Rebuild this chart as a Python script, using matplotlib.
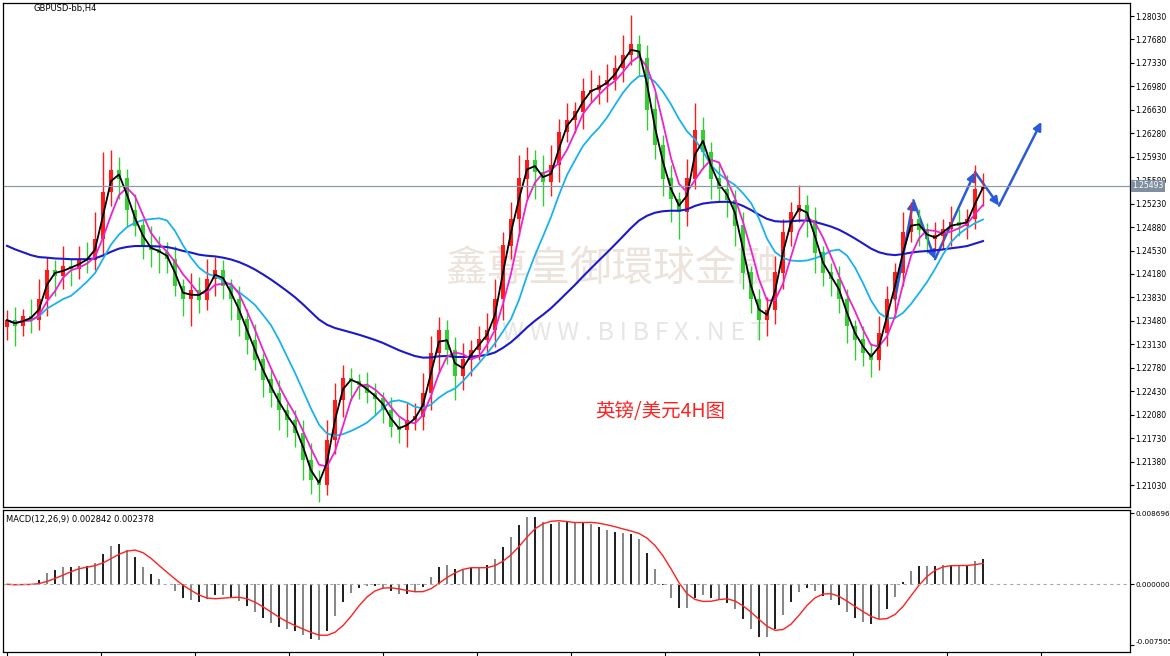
import numpy as np
import pandas as pd
import matplotlib
matplotlib.use("Agg")
import matplotlib.pyplot as plt
from matplotlib.patches import FancyArrowPatch

plt.rcParams['font.family'] = ['Noto Sans CJK SC', 'DejaVu Sans']

# closes in points above 1.2000
closes_pts = [349, 340, 355, 350, 380, 424, 415, 430, 425, 440, 439, 470, 540, 573, 560, 513,
              490, 460, 454, 450, 440, 400, 380, 394, 379, 410, 424, 400, 380, 350, 319, 290,
              260, 240, 215, 200, 180, 140, 110, 103, 170, 230, 262, 258, 252, 240, 232, 215,
              190, 185, 200, 205, 240, 300, 334, 304, 265, 290, 304, 320, 334, 380, 460, 500,
              560, 588, 570, 555, 580, 630, 648, 660, 690, 692, 700, 707, 725, 745, 760, 740,
              663, 610, 560, 530, 510, 560, 633, 600, 560, 545, 528, 490, 420, 380, 350, 364,
              420, 480, 510, 521, 498, 450, 420, 410, 380, 340, 320, 300, 289, 330, 380, 420,
              480, 500, 484, 470, 475, 485, 495, 490, 500, 545, 549]
wick_up = [15, 20, 10, 25, 30, 20, 15, 30, 10, 20, 25, 40, 60, 30, 20, 15,
           25, 10, 30, 20, 15, 20, 10, 25, 20, 30, 20, 15, 10, 20, 15, 25,
           10, 15, 20, 10, 15, 20, 25, 15, 30, 25, 20, 15, 10, 20, 15, 10,
           20, 15, 25, 20, 30, 25, 20, 15, 20, 25, 15, 20, 25, 30, 20, 25,
           35, 20, 15, 25, 30, 20, 25, 15, 20, 30, 15, 25, 20, 30, 45, 15,
           20, 25, 15, 20, 10, 30, 40, 20, 15, 25, 20, 15, 20, 10, 15, 20,
           25, 20, 15, 30, 15, 20, 10, 15, 20, 15, 10, 20, 15, 25, 20, 15,
           30, 25, 15, 10, 20, 15, 25, 20, 15, 35, 20]
wick_dn = [20, 30, 15, 20, 15, 25, 30, 20, 25, 15, 20, 15, 25, 20, 30, 25,
           15, 20, 25, 30, 20, 15, 25, 40, 20, 15, 25, 20, 30, 25, 20, 15,
           25, 20, 30, 25, 20, 30, 20, 25, 15, 20, 25, 30, 20, 15, 25, 20,
           15, 20, 25, 15, 20, 25, 30, 20, 35, 20, 25, 15, 20, 25, 30, 20,
           25, 30, 40, 35, 20, 25, 15, 20, 25, 15, 20, 25, 15, 20, 15, 25,
           30, 20, 25, 35, 40, 20, 15, 25, 30, 20, 25, 30, 25, 20, 30, 25,
           20, 25, 20, 15, 25, 30, 20, 25, 20, 25, 30, 20, 25, 15, 20, 25,
           20, 15, 25, 20, 15, 20, 25, 15, 20, 15, 25]
price_ticks = [1.28030, 1.27680, 1.27330, 1.26980, 1.26630, 1.26280, 1.25930, 1.25580,
               1.25230, 1.24880, 1.24530, 1.24180, 1.23830, 1.23480, 1.23130, 1.22780,
               1.22430, 1.22080, 1.21730, 1.21380, 1.21030]
last_price = 1.25493
blue_seed = 1.2465  # slow MA level before the first visible bar
symbol_label = "GBPUSD-bb,H4"
macd_label = "MACD(12,26,9) 0.002842 0.002378"
chart_title = "英镑/美元4H图"
watermark = "鑫尊皇御環球金融"
watermark_url = "W W W . B I B F X . N E T"
# arrow path (bar index, price)
arrow_pts = [(111, 1.2380), (113.3, 1.2528), (116, 1.2440), (121, 1.2570), (124, 1.2520), (129.3, 1.2645)]

close = np.array(closes_pts) / 10000 + 1.2
opn = np.concatenate([[close[0] - 0.001], close[:-1]])
high = np.maximum(opn, close) + np.array(wick_up) / 10000
low = np.minimum(opn, close) - np.array(wick_dn) / 10000
n = len(close)
idx = np.arange(n)

s = pd.Series(close)
ma_black = s.rolling(2, min_periods=1).mean()
ma_mag = s.rolling(4, min_periods=1).mean()
ma_cyan = s.rolling(9, min_periods=1).mean()
ma_blue = pd.concat([pd.Series([blue_seed]), s]).ewm(span=45, adjust=False).mean().iloc[1:].values
ema_f = s.ewm(span=6, adjust=False).mean()
ema_s = s.ewm(span=13, adjust=False).mean()
macd = ema_f - ema_s
signal = macd.rolling(5, min_periods=1).mean()

W, H = 1170, 656
fig = plt.figure(figsize=(W / 100, H / 100), dpi=100)
ax = fig.add_axes([3 / W, 1 - 507 / H, (1130 - 3) / W, 504 / H])
ax2 = fig.add_axes([3 / W, 1 - 652 / H, (1130 - 3) / W, 142 / H])

xmin, xmax = -0.5, 1127 / 8 - 0.5
top_p = 1.28030 + 13 / 469 * 0.07
bot_p = 1.21030 - 22 / 469 * 0.07
ax.set_xlim(xmin, xmax)
ax.set_ylim(bot_p, top_p)

up = close >= opn
ax.vlines(idx, low, high, colors=np.where(up, '#ff1a1a', '#33cc33'), lw=1)
ax.bar(idx, np.abs(close - opn) + 0.00005, bottom=np.minimum(opn, close), width=0.5,
       color=np.where(up, '#ff1a1a', '#33cc33'), lw=0)

ax.plot(idx, ma_blue, color='#1a1acc', lw=1.5)
ax.plot(idx, ma_cyan, color='#1ab2ee', lw=1.3)
ax.plot(idx, ma_mag, color='#ee22cc', lw=1.3)
ax.plot(idx, ma_black, color='black', lw=1.3)

ax.axhline(last_price, color='#8a9aa8', lw=0.9)

for a, b in zip(arrow_pts[:-1], arrow_pts[1:]):
    ax.add_patch(FancyArrowPatch(a, b, arrowstyle='-|>', mutation_scale=12,
                                 color='#2a5ad8', lw=1.8, shrinkA=0, shrinkB=0))

ax.text(0.54, 0.47, watermark, transform=ax.transAxes, fontsize=30, color='#ece4dc',
        ha='center', va='center', zorder=0)
ax.text(0.56, 0.345, watermark_url, transform=ax.transAxes, fontsize=18, color='#e6e6e6',
        ha='center', va='center', zorder=0)
ax.text(657 / 1127, 1 - (412 - 3) / 504, chart_title, transform=ax.transAxes, fontsize=14,
        color='#ff2020', ha='center', va='center')
ax.text(30 / 1127, 1 - (9 - 3) / 504, symbol_label, transform=ax.transAxes, fontsize=6,
        va='center', ha='left', family='DejaVu Sans')

ax.yaxis.tick_right()
ax.set_yticks(price_ticks)
ax.set_yticklabels([f"{t:.5f}" for t in price_ticks], fontsize=5.5, family='DejaVu Sans')
ax.tick_params(axis='y', length=3, pad=1)
ax.set_xticks([])
ax.text(1.002, (last_price - bot_p) / (top_p - bot_p), f"{last_price:.5f}", transform=ax.transAxes,
        fontsize=5.5, color='white', va='center', ha='left', family='DejaVu Sans',
        bbox=dict(boxstyle='square,pad=0.15', fc='#7f8fa0', ec='none'))

# MACD panel
ax2.set_xlim(xmin, xmax)
ax2.set_ylim(-0.007505 - 0.0008, 0.008696 + 0.0004)
ax2.bar(idx, macd, width=0.35, color=np.where(np.arange(n) % 2 == 0, '#222222', '#888888'))
ax2.plot(idx, signal, color='#ff2020', lw=1)
ax2.axhline(0, color='#aaaaaa', lw=0.8, ls=(0, (3, 3)))
ax2.yaxis.tick_right()
ax2.set_yticks([0.008696, 0.0, -0.007505])
ax2.set_yticklabels(["0.008696", "0.000000", "-0.007505"], fontsize=5.2, family='DejaVu Sans')
ax2.get_yticklabels()[2].set_va('bottom')
ax2.tick_params(axis='y', length=3, pad=1)
ax2.set_xticks(np.arange(0, xmax, 47 / 8 * 2))
ax2.set_xticklabels([])
ax2.tick_params(axis='x', length=4, direction='out')
ax2.text(3 / 1127, 0.93, macd_label, transform=ax2.transAxes, fontsize=6, va='center',
         family='DejaVu Sans')

for a in (ax, ax2):
    for sp in a.spines.values():
        sp.set_linewidth(0.9)

fig.savefig("out.png", dpi=100)
